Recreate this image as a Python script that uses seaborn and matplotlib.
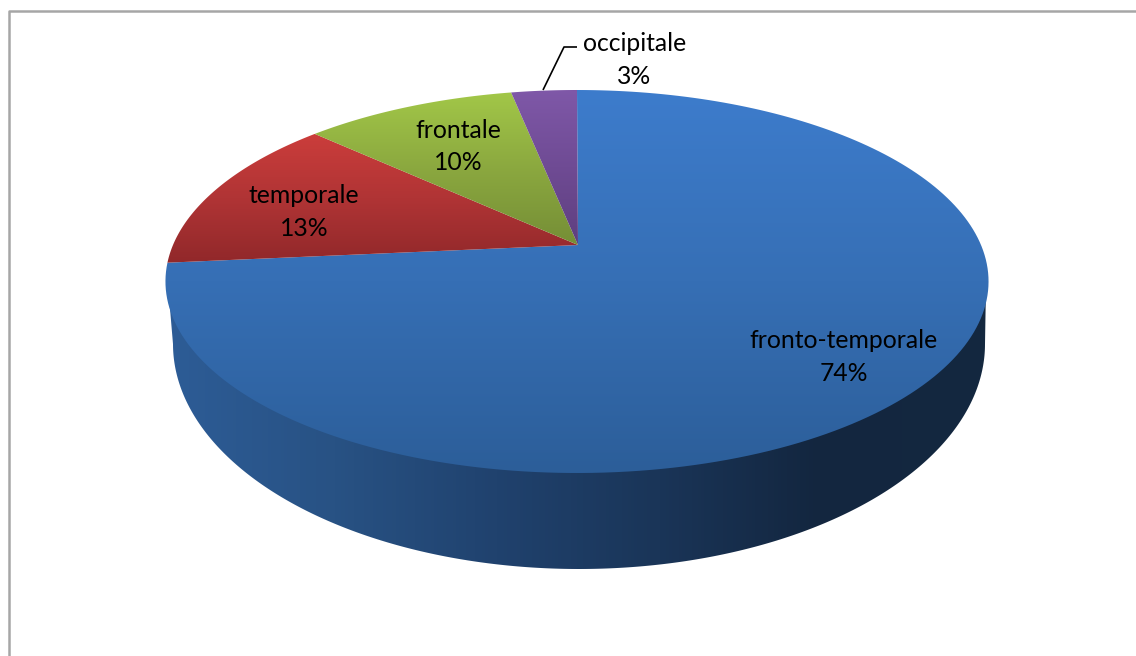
import numpy as np
import matplotlib
matplotlib.use("Agg")
import matplotlib.pyplot as plt
from matplotlib.patches import Polygon
import seaborn as sns

# slices, clockwise from 12 o'clock
regions = ["fronto-temporale", "temporale", "frontale", "occipitale"]
shares = [73.5, 13.4, 10.0, 3.1]
share_labels = ["74%", "13%", "10%", "3%"]

top_colors = [
    ["#3d7ccc", "#366fb5", "#2c5e99"],
    ["#cb3d3b", "#b03435", "#91282a"],
    ["#a2c748", "#8ba83f", "#758e36"],
    ["#7f58a8", "#6f4b94", "#5e3f7f"],
]
wall_colors = ["#2d5c96", "#285284", "#20426e", "#1a3558", "#13263f", "#14283f"]

label_pos = [(844, 357), (304, 212), (458, 146.5), (634.5, 60)]

sns.set_theme(style="white")
plt.rcParams["font.family"] = ["Lato", "DejaVu Sans"]

# perspective of the tilted disc, in pixels
CX, APEX_Y = 577.0, 245.0
TILT = 0.1906
RISE = -137.85
HALF_W = 404.0


def project(theta):
    u, v = np.cos(theta), np.sin(theta)
    d = 1 + TILT * v
    return np.column_stack([CX + HALF_W * u / d, (APEX_Y + RISE * v) / d])


def gradient(ax, poly, cmap, horizontal=False):
    x0, y0 = poly.get_xy().min(axis=0)
    x1, y1 = poly.get_xy().max(axis=0)
    ramp = np.linspace(0, 1, 256)
    ramp = ramp[None, :] if horizontal else ramp[:, None]
    im = ax.imshow(ramp, cmap=cmap, extent=(x0, x1, y1, y0), aspect="auto",
                   vmin=0, vmax=1, interpolation="bilinear")
    ax.add_patch(poly)
    im.set_clip_path(poly)


fig = plt.figure(figsize=(11.36, 6.56), dpi=100)
ax = fig.add_axes([0, 0, 1, 1])

wedges, _ = ax.pie(shares, startangle=90, counterclock=False)
for w in wedges:
    w.set_visible(False)

# side wall
t = np.linspace(np.pi, 2 * np.pi, 300)
wall = np.column_stack([579 + 406 * np.cos(t), 344 - 225 * np.sin(t)])
wall = np.vstack([[168, 285], wall, [986, 285]])
wall_poly = Polygon(wall, closed=True, fc="none", ec="none")
gradient(ax, wall_poly, sns.blend_palette(wall_colors, as_cmap=True), horizontal=True)

# top of the pie, slice angles come from the pie itself
for w, cols in zip(wedges, top_colors):
    arc = project(np.radians(np.linspace(w.theta1, w.theta2, 200)))
    poly = Polygon(np.vstack([[CX + 1, APEX_Y], arc]), closed=True, fc="none", ec="none")
    gradient(ax, poly, sns.blend_palette(cols, as_cmap=True))

for name, pct, (x, y) in zip(regions, share_labels, label_pos):
    ax.text(x, y, f"{name}\n{pct}", ha="center", va="center", fontsize=17.8,
            color="black", linespacing=1.5)

# leader line of the small slice
ax.plot([543, 564, 577], [90, 47, 47], color="black", lw=1.2, solid_capstyle="butt")

# chart frame, cut off by the image edge
ax.plot([9, 9, 1136], [656, 11, 11], color="#a6a6a6", lw=1.8)

ax.set_aspect("auto")
ax.set_xlim(0, 1136)
ax.set_ylim(656, 0)
ax.axis("off")

fig.savefig("out.png", dpi=100)
